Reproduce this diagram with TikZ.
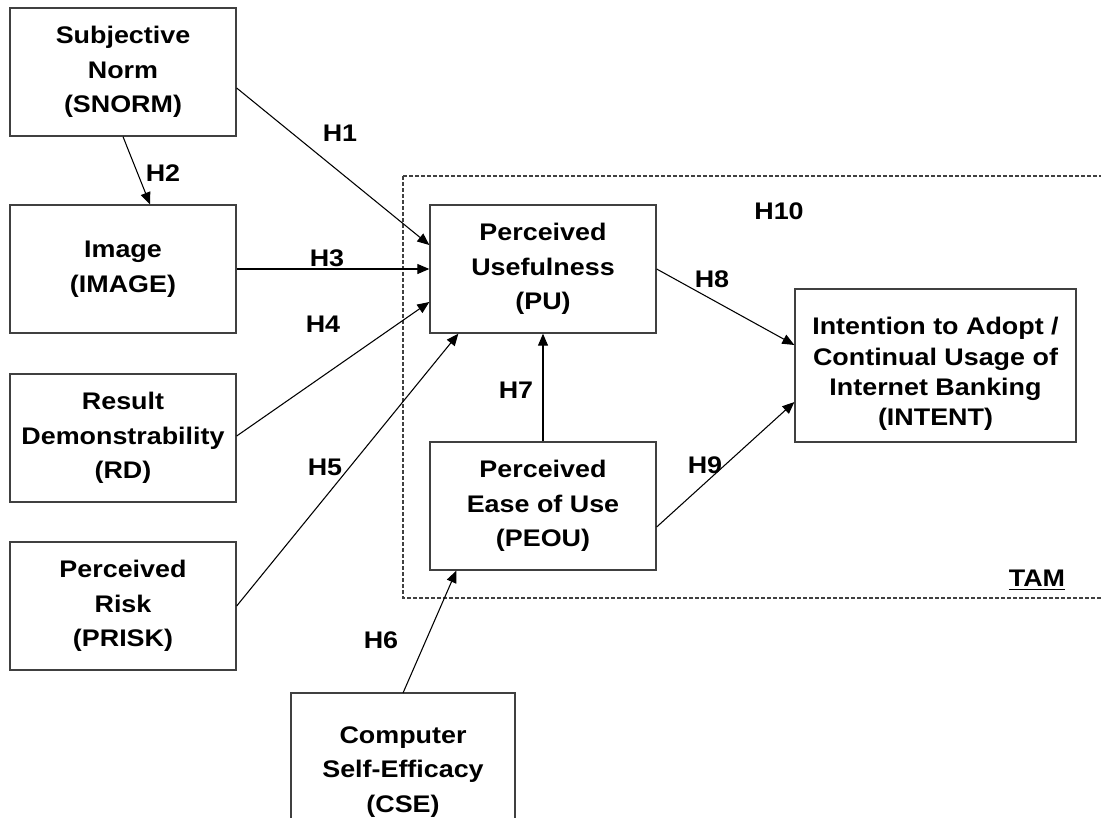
\documentclass[tikz,border=0pt]{standalone}
\usepackage{fontspec}
\setmainfont[FakeStretch=1.12]{Liberation Sans}
\usetikzlibrary{calc,arrows.meta}
\begin{document}
\begin{tikzpicture}[x=0.75pt,y=-0.75pt,
  font=\fontsize{18pt}{26pt}\selectfont\bfseries,
  box/.style={draw=black!75, line width=1pt, minimum width=169.5pt, minimum height=96pt,
    inner sep=0pt, align=center},
  link/.style={draw=black, line width=0.8pt, -{Triangle[length=9pt,width=7.5pt]}},
  hyp/.style={inner sep=0pt}
]
\useasboundingbox (0,0) rectangle (1101,818);
\clip (0,0) rectangle (1101,818);
\fill[white] (0,0) rectangle (1101,818);

% TAM boundary
\draw[black!75, line width=0.8pt, dash pattern=on 3pt off 1.5pt] (403,176) rectangle (1120,598);

% constructs
\node[box] (snorm)  at (123,72)  {Subjective\\Norm\\(SNORM)};
\node[box] (image)  at (123,269) {Image\\(IMAGE)};
\node[box] (rd)     at (123,438) {Result\\Demonstrability\\(RD)};
\node[box] (prisk)  at (123,606) {Perceived\\Risk\\(PRISK)};
\node[box] (pu)     at (543,269) {Perceived\\Usefulness\\(PU)};
\node[box] (peou)   at (543,506) {Perceived\\Ease of Use\\(PEOU)};
\node[box, minimum width=210.75pt, minimum height=114.75pt] (intent) at (935.5,365.5) {};
\node[align=center, inner sep=0pt, font=\fontsize{18pt}{22.75pt}\selectfont\bfseries]
  (intenttext) at (935.5,374)
  {Intention to Adopt /\\Continual Usage of\\Internet Banking\\(INTENT)};

% computer self-efficacy, open at the lower edge
\draw[black!75, line width=1pt] (291,830) -- (291,693) -- (515,693) -- (515,830);
\coordinate (cse) at (403,693);
\node[align=center, inner sep=0pt] (csetext) at (403,772) {Computer\\Self-Efficacy\\(CSE)};

% hypotheses
\draw[link] ([yshift=-12pt]snorm.east) -- ([yshift=18pt]pu.west);
\draw[link] (snorm.south) -- ([xshift=20.25pt]image.north);
\draw[link] (image.east) -- (pu.west);
\draw[link] ([yshift=1.5pt]rd.east) -- ([yshift=-24.75pt]pu.west);
\draw[link] (prisk.east) -- ([xshift=21.75pt]pu.south west);
\draw[link] (cse) -- ([xshift=20.25pt]peou.south west);
\draw[link] (peou.north) -- (pu.south);
\draw[link] (pu.east) -- ([yshift=15.4pt]intent.west);
\draw[link] ([yshift=-15.75pt]peou.east) -- ([yshift=-27.4pt]intent.west);

\node[hyp] (h1)  at (340,133) {H1};
\node[hyp] (h2)  at (163,173) {H2};
\node[hyp] (h3)  at (327,258) {H3};
\node[hyp] (h4)  at (323,324) {H4};
\node[hyp] (h5)  at (325,467) {H5};
\node[hyp] (h6)  at (381,640) {H6};
\node[hyp] (h7)  at (516,390) {H7};
\node[hyp] (h8)  at (712,279) {H8};
\node[hyp] (h9)  at (705,465) {H9};
\node[hyp] (h10) at (779,211) {H10};
\node[hyp] (tam) at (1037,580) {\underline{TAM}};
\end{tikzpicture}
\end{document}
